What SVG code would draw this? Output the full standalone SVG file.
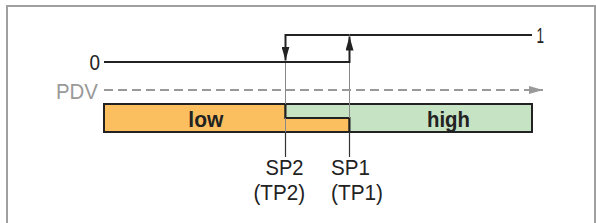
<svg xmlns="http://www.w3.org/2000/svg" width="596" height="223" viewBox="0 0 596 223">
<defs>
<style>
.lbl{font-family:"Liberation Sans",Arial,sans-serif;font-size:22.5px;fill:#222}
.bold{font-weight:bold}
.thin{stroke:#888;stroke-width:1;fill:none}
.tick{stroke:#333;stroke-width:1.2;fill:none}
.sig{stroke:#222;stroke-width:2;fill:none}
</style>
<marker id="ah" viewBox="0 0 14 8" refX="14" refY="4" markerWidth="14" markerHeight="8" markerUnits="userSpaceOnUse" orient="auto">
<path d="M0,0 L14,4 L0,8 Z" fill="#222"/>
</marker>
<marker id="ag" viewBox="0 0 14 8" refX="14" refY="4" markerWidth="14" markerHeight="8" markerUnits="userSpaceOnUse" orient="auto">
<path d="M0,0 L14,4 L0,8 Z" fill="#999"/>
</marker>
</defs>
<rect x="7" y="6" width="588" height="222" fill="#fff" stroke="#a0a0a0" stroke-width="2"/>
<g id="bar-low">
<path d="M104,104 H285.5 V118 H349.5 V132 H104 Z" fill="#fcbf5f" stroke="#222" stroke-width="2"/>
<text class="lbl bold" x="188.3" y="126.5" textLength="35" lengthAdjust="spacingAndGlyphs">low</text>
</g>
<g id="bar-high">
<path d="M285.5,104 H532 V132 H349.5 V118 H285.5 Z" fill="#c6e3c4" stroke="#222" stroke-width="2"/>
<text class="lbl bold" x="427" y="126.5" textLength="43" lengthAdjust="spacingAndGlyphs">high</text>
</g>
<g id="connectors">
<line class="thin" x1="285.5" y1="62" x2="285.5" y2="104"/>
<line class="thin" x1="285.5" y1="118" x2="285.5" y2="132"/>
<line class="thin" x1="349.5" y1="62" x2="349.5" y2="118"/>
<line class="tick" x1="285.5" y1="132" x2="285.5" y2="157"/>
<line class="tick" x1="349.5" y1="132" x2="349.5" y2="157"/>
<line x1="104" y1="90" x2="543" y2="90" stroke="#999" stroke-width="2" stroke-dasharray="9,5" marker-end="url(#ag)"/>
<polyline class="sig" points="104,62 349.5,62 349.5,36.5" marker-end="url(#ah)"/>
<line class="sig" x1="349.5" y1="35" x2="532" y2="35"/>
<polyline class="sig" points="349.5,35 285.5,35 285.5,60.5" marker-end="url(#ah)"/>
</g>
<g id="labels">
<text class="lbl" x="89.5" y="70" textLength="10.5" lengthAdjust="spacingAndGlyphs">0</text>
<text class="lbl" x="536.5" y="43" textLength="7.5" lengthAdjust="spacingAndGlyphs">1</text>
<text class="lbl" x="56" y="99" textLength="42" lengthAdjust="spacingAndGlyphs" style="fill:#999">PDV</text>
<text class="lbl" x="265.5" y="174.5" textLength="38" lengthAdjust="spacingAndGlyphs">SP2</text>
<text class="lbl" x="253.5" y="199.5" textLength="51.5" lengthAdjust="spacingAndGlyphs">(TP2)</text>
<text class="lbl" x="331" y="174.5" textLength="39" lengthAdjust="spacingAndGlyphs">SP1</text>
<text class="lbl" x="331" y="199.5" textLength="52" lengthAdjust="spacingAndGlyphs">(TP1)</text>
</g>
</svg>
